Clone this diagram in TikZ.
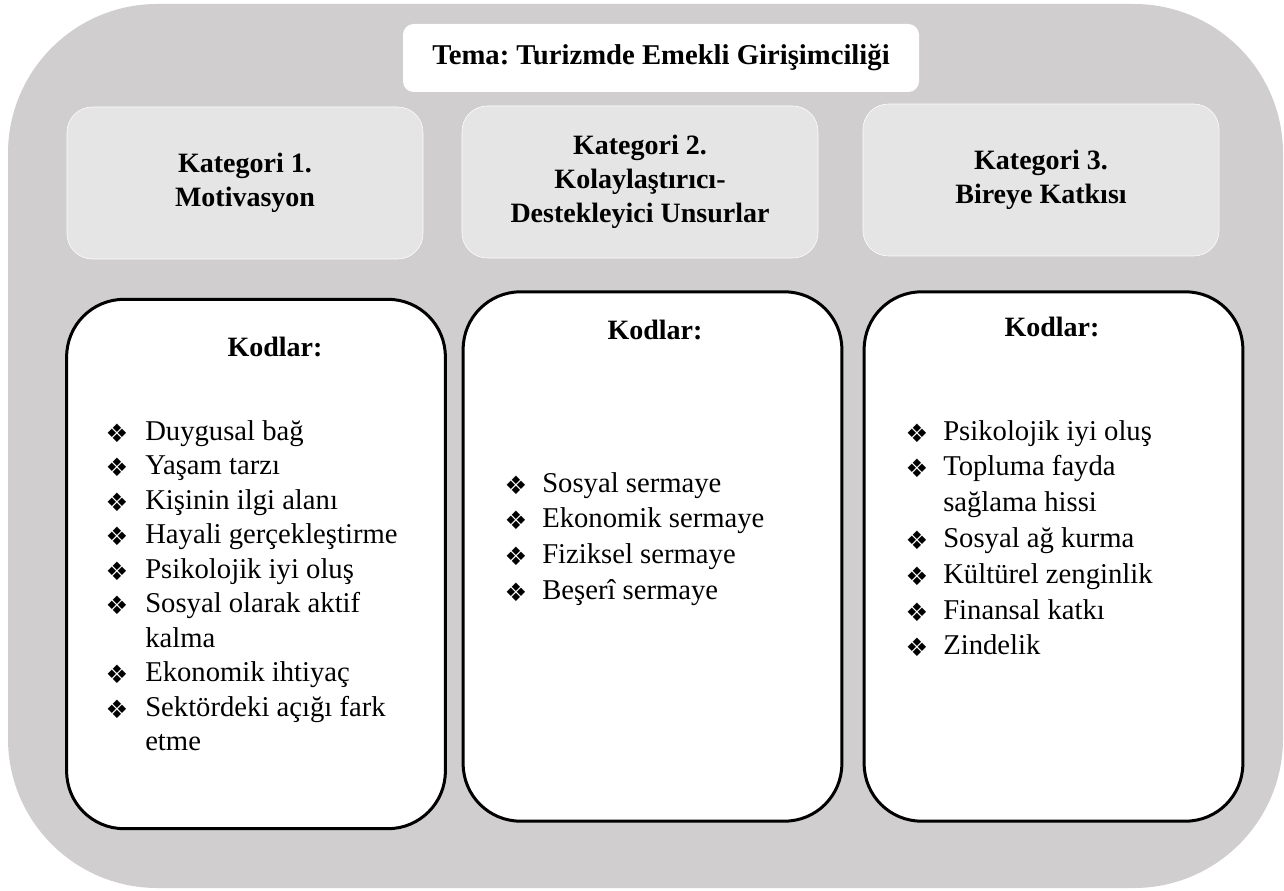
\documentclass[tikz,border=0pt]{standalone}
\usepackage{fontspec}
\setmainfont{Liberation Serif}
\newfontfamily\bulletfont{DejaVu Sans}
\frenchspacing

\definecolor{framegray}{HTML}{D0CECF}
\definecolor{catgray}{HTML}{E5E5E5}

\tikzset{
  temabox/.style={fill=white, rounded corners=8pt, minimum width=387pt, minimum height=51pt, font=\bfseries\fontsize{21.5}{25}\selectfont},
  catbox/.style={draw=white, fill=catgray, rounded corners=19pt, minimum width=267pt, minimum height=114pt, align=center, font=\bfseries\fontsize{21}{25.5}\selectfont},
  kodbox/.style={draw=black, line width=2.25pt, fill=white, rounded corners=43pt, minimum width=284pt, minimum height=397pt},
  kodhead/.style={inner sep=0pt, font=\bfseries\fontsize{21}{25}\selectfont},
  kodtext/.style={inner sep=0pt, anchor=base west, font=\fontsize{21.5}{25}\selectfont},
  kodbullet/.style={inner sep=0pt, font=\bulletfont\fontsize{19}{22}\selectfont}
}

\begin{document}
\begin{tikzpicture}[x=0.75pt,y=-0.75pt]
\useasboundingbox (0,0) rectangle (1284,891);

% gray frame
\fill[framegray, rounded corners=112pt] (8,4) rectangle (1283,888);

\node[temabox] (tema) at (661,58) {Tema: Turizmde Emekli Girişimciliği};

% categories
\node[catbox] (cat1) at (245,183) {Kategori 1.\\Motivasyon};
\node[catbox] (cat2) at (640,182) {Kategori 2.\\Kolaylaştırıcı-\\Destekleyici Unsurlar};
\node[catbox] (cat3) at (1041,180) {Kategori 3.\\Bireye Katkısı};

% code boxes
\node[kodbox] (kod1) at (256,564) {};
\node[kodbox] (kod2) at (652.5,556.5) {};
\node[kodbox] (kod3) at (1053.5,556.5) {};

\node[kodhead] (head1) at (275,347) {Kodlar:};
\node[kodhead] (head2) at (655,330) {Kodlar:};
\node[kodhead] (head3) at (1052,327) {Kodlar:};

% codes, category 1
\foreach \t/\b [count=\i] in {Duygusal bağ/1, Yaşam tarzı/1, Kişinin ilgi alanı/1,
    Hayali gerçekleştirme/1, Psikolojik iyi oluş/1, Sosyal olarak aktif/1, kalma/0,
    Ekonomik ihtiyaç/1, Sektördeki açığı fark/1, etme/0}{
  \node[kodtext] (t1-\i) at (145,{440+34.5*(\i-1)}) {\t};
  \ifnum\b=1 \node[kodbullet] (b1-\i) at (117,{433+34.5*(\i-1)}) {❖};\fi
}

% codes, category 2
\foreach \t [count=\i] in {Sosyal sermaye, Ekonomik sermaye, Fiziksel sermaye, Beşerî sermaye}{
  \node[kodtext] (t2-\i) at (542,{492+35.7*(\i-1)}) {\t};
  \node[kodbullet] (b2-\i) at (516,{485+35.7*(\i-1)}) {❖};
}

% codes, category 3
\foreach \t/\b [count=\i] in {Psikolojik iyi oluş/1, Topluma fayda/1, sağlama hissi/0,
    Sosyal ağ kurma/1, Kültürel zenginlik/1, Finansal katkı/1, Zindelik/1}{
  \node[kodtext] (t3-\i) at (943,{440+35.8*(\i-1)}) {\t};
  \ifnum\b=1 \node[kodbullet] (b3-\i) at (917,{433+35.8*(\i-1)}) {❖};\fi
}

\end{tikzpicture}
\end{document}
